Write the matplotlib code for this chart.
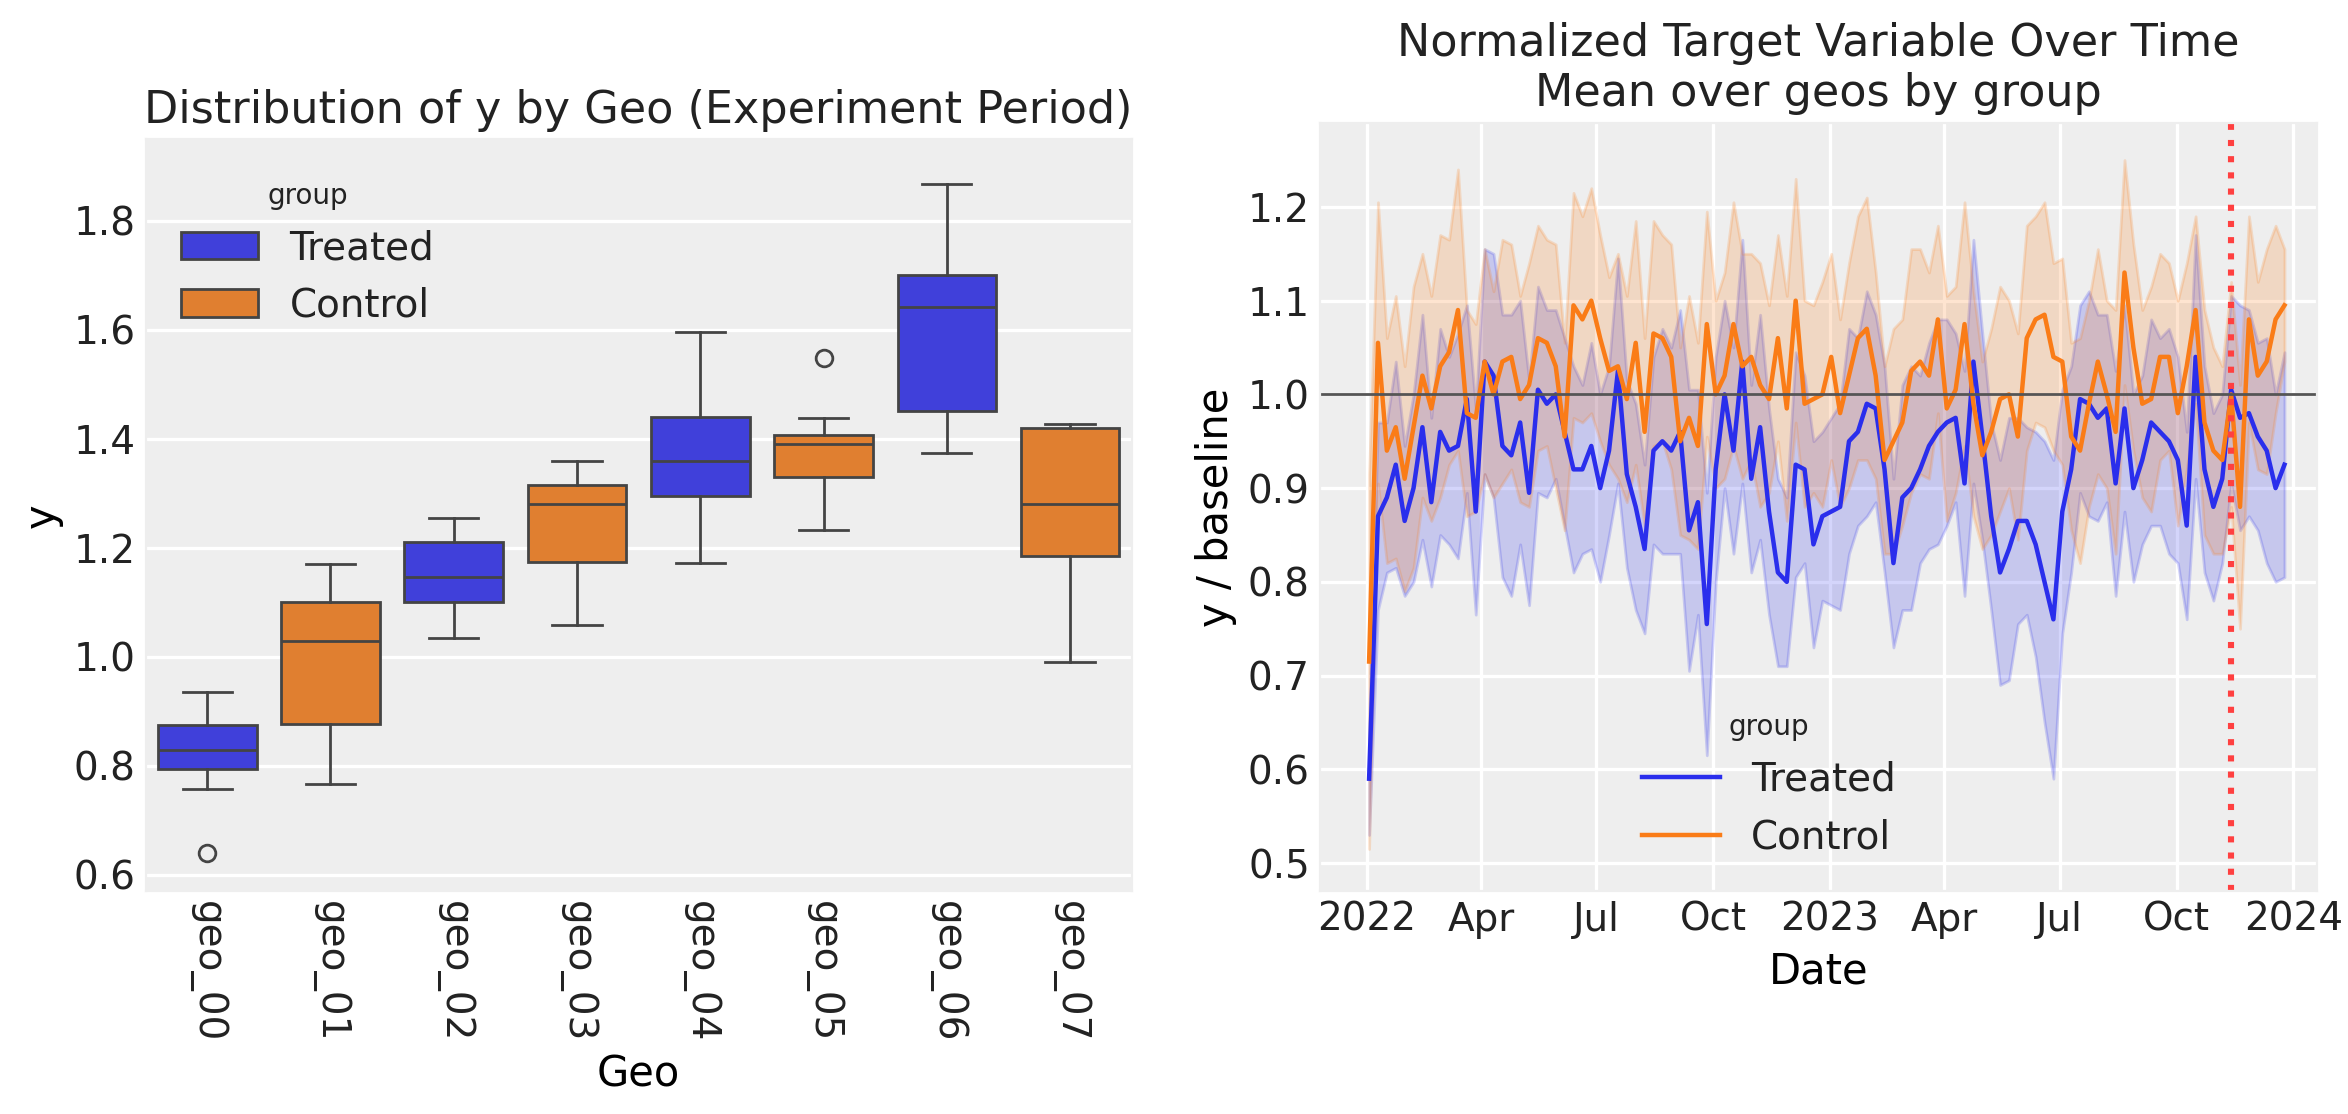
import matplotlib.pyplot as plt
import pandas as pd

geos = ["geo_00", "geo_01", "geo_02", "geo_03", "geo_04", "geo_05", "geo_06", "geo_07"]
geo_group = ["Treated", "Control", "Treated", "Control", "Treated", "Control", "Treated", "Control"]
box_med = [0.83, 1.03, 1.147, 1.28, 1.36, 1.39, 1.643, 1.28]
box_q1 = [0.795, 0.877, 1.10, 1.175, 1.295, 1.33, 1.452, 1.185]
box_q3 = [0.875, 1.10, 1.21, 1.315, 1.44, 1.408, 1.70, 1.42]
box_lo = [0.757, 0.767, 1.035, 1.058, 1.173, 1.232, 1.375, 0.99]
box_hi = [0.935, 1.17, 1.255, 1.36, 1.597, 1.438, 1.867, 1.428]
box_fliers = [[0.64], [], [], [], [], [1.548], [], []]

treated = [0.59, 0.87, 0.89, 0.925, 0.865, 0.90, 0.965, 0.885, 0.96, 0.94, 0.945, 0.995,
           0.875, 1.035, 1.02, 0.945, 0.935, 0.97, 0.895, 1.005, 0.99, 1.00, 0.96, 0.92,
           0.92, 0.945, 0.90, 0.94, 1.025, 0.915, 0.88, 0.835, 0.94, 0.95, 0.94, 0.96,
           0.855, 0.885, 0.755, 0.92, 1.00, 0.94, 1.035, 0.91, 0.965, 0.875, 0.81, 0.80,
           0.925, 0.92, 0.84, 0.87, 0.875, 0.88, 0.95, 0.96, 0.99, 0.985, 0.92, 0.82,
           0.89, 0.90, 0.92, 0.945, 0.96, 0.97, 0.975, 0.905, 1.035, 0.955, 0.87, 0.81,
           0.835, 0.865, 0.865, 0.84, 0.80, 0.76, 0.875, 0.92, 0.995, 0.99, 0.975, 0.985,
           0.905, 0.985, 0.90, 0.93, 0.97, 0.96, 0.95, 0.93, 0.86, 1.04, 0.92, 0.88,
           0.91, 1.005, 0.975, 0.98, 0.955, 0.94, 0.90, 0.925]
control = [0.715, 1.055, 0.94, 0.965, 0.91, 0.965, 1.02, 0.985, 1.03, 1.045, 1.09, 0.98,
           0.975, 1.035, 1.00, 1.035, 1.04, 0.995, 1.01, 1.06, 1.055, 1.03, 0.955, 1.095,
           1.08, 1.10, 1.06, 1.025, 1.03, 0.995, 1.055, 0.96, 1.065, 1.06, 1.04, 0.95,
           0.975, 0.945, 1.075, 1.00, 1.02, 1.075, 1.03, 1.04, 1.01, 0.995, 1.06, 0.985,
           1.10, 0.99, 0.995, 1.00, 1.04, 0.98, 1.02, 1.06, 1.07, 1.02, 0.93, 0.95,
           0.97, 1.025, 1.035, 1.02, 1.08, 0.985, 1.005, 1.075, 0.99, 0.935, 0.96, 0.995,
           1.00, 0.955, 1.06, 1.08, 1.085, 1.04, 1.035, 0.955, 0.94, 0.99, 1.035, 1.00,
           0.96, 1.13, 1.05, 0.99, 0.995, 1.04, 1.04, 0.98, 1.03, 1.09, 0.97, 0.94,
           0.93, 1.00, 0.88, 1.08, 1.02, 1.035, 1.08, 1.095]
treated_spread = [0.06, 0.10, 0.08, 0.11, 0.08, 0.10, 0.12, 0.09, 0.11, 0.10, 0.12, 0.10,
                  0.11, 0.12, 0.13, 0.14, 0.15, 0.13, 0.12, 0.11, 0.10, 0.09, 0.10, 0.11,
                  0.09, 0.11, 0.10, 0.09, 0.12, 0.10, 0.11, 0.09, 0.10, 0.12, 0.11, 0.13,
                  0.15, 0.12, 0.14, 0.12, 0.10, 0.11, 0.13, 0.10, 0.12, 0.11, 0.10, 0.09,
                  0.12, 0.10, 0.11, 0.09, 0.10, 0.11, 0.12, 0.10, 0.12, 0.10, 0.11, 0.09,
                  0.12, 0.13, 0.10, 0.11, 0.12, 0.11, 0.09, 0.12, 0.13, 0.11, 0.10, 0.12,
                  0.14, 0.11, 0.10, 0.12, 0.15, 0.17, 0.13, 0.11, 0.10, 0.12, 0.11, 0.10,
                  0.12, 0.11, 0.10, 0.09, 0.11, 0.10, 0.12, 0.11, 0.10, 0.13, 0.11, 0.10,
                  0.09, 0.10, 0.12, 0.11, 0.10, 0.12, 0.10, 0.12]
control_spread = [0.20, 0.15, 0.12, 0.14, 0.12, 0.15, 0.13, 0.12, 0.14, 0.12, 0.15, 0.11,
                  0.10, 0.12, 0.11, 0.13, 0.12, 0.11, 0.13, 0.12, 0.11, 0.13, 0.10, 0.12,
                  0.11, 0.12, 0.11, 0.10, 0.12, 0.11, 0.13, 0.10, 0.12, 0.11, 0.12, 0.10,
                  0.13, 0.11, 0.12, 0.10, 0.11, 0.13, 0.12, 0.11, 0.13, 0.10, 0.11, 0.12,
                  0.13, 0.11, 0.10, 0.12, 0.11, 0.10, 0.12, 0.13, 0.14, 0.11, 0.10, 0.12,
                  0.11, 0.13, 0.12, 0.11, 0.10, 0.12, 0.11, 0.13, 0.12, 0.10, 0.11, 0.12,
                  0.10, 0.11, 0.12, 0.11, 0.12, 0.10, 0.11, 0.10, 0.12, 0.11, 0.12, 0.10,
                  0.13, 0.12, 0.11, 0.10, 0.12, 0.11, 0.10, 0.12, 0.11, 0.10, 0.12, 0.11,
                  0.10, 0.12, 0.13, 0.11, 0.10, 0.12, 0.10, 0.06]
experiment_start = "2023-11-13"

n = min(len(treated), len(control), len(treated_spread), len(control_spread))
dates = pd.date_range("2022-01-03", periods=n, freq="7D")

plt.rcParams.update({
    "font.family": "DejaVu Sans",
    "axes.facecolor": "#eeeeee",
    "axes.edgecolor": "#eeeeee",
    "grid.color": "white",
    "grid.linewidth": 1.2,
    "axes.axisbelow": True,
    "text.color": "#222222",
    "xtick.color": "#222222",
    "ytick.color": "#222222",
})
colors = {"Treated": "#4040da", "Control": "#e07f30"}
line_colors = {"Treated": "#2a2eec", "Control": "#fa7c17"}

fig = plt.figure(figsize=(11.74, 5.57), dpi=200)
ax1 = fig.add_axes([0.062, 0.20, 0.42, 0.675])
ax2 = fig.add_axes([0.562, 0.20, 0.425, 0.69])

stats = []
for i in range(len(geos)):
    stats.append({"med": box_med[i], "q1": box_q1[i], "q3": box_q3[i],
                  "whislo": box_lo[i], "whishi": box_hi[i], "fliers": box_fliers[i]})
bp = ax1.bxp(stats, positions=range(len(geos)), widths=0.8, patch_artist=True,
             boxprops=dict(edgecolor="#444444", linewidth=1),
             medianprops=dict(color="#444444", linewidth=1),
             whiskerprops=dict(color="#444444", linewidth=1),
             capprops=dict(color="#444444", linewidth=1),
             flierprops=dict(marker="o", markerfacecolor="none", markeredgecolor="#444444", markersize=6))
for patch, g in zip(bp["boxes"], geo_group):
    patch.set_facecolor(colors[g])
ax1.set_xticks(range(len(geos)))
ax1.set_xticklabels(geos, rotation=-90, fontsize=14)
ax1.set_xlim(-0.5, len(geos) - 0.5)
ax1.set_ylim(0.57, 1.95)
ax1.tick_params(axis="y", labelsize=14, length=0)
ax1.tick_params(axis="x", length=0)
ax1.grid(axis="y")
ax1.set_xlabel("Geo", fontsize=15)
ax1.set_ylabel("y", fontsize=15)
ax1.set_title("Distribution of y by Geo (Experiment Period)", fontsize=16)
handles = [plt.Rectangle((0, 0), 1, 1, facecolor=colors[g], edgecolor="#444444") for g in ["Treated", "Control"]]
ax1.legend(handles, ["Treated", "Control"], title="group", loc="upper left",
           bbox_to_anchor=(0.0, 0.99), frameon=False, fontsize=14, title_fontsize=10)

for name, vals, spread in [("Treated", treated, treated_spread), ("Control", control, control_spread)]:
    v = pd.Series(vals[:n], index=dates)
    s = pd.Series(spread[:n], index=dates)
    ax2.fill_between(dates, v - s, v + s, color=line_colors[name], alpha=0.2, linewidth=1)
    ax2.plot(dates, v, color=line_colors[name], linewidth=1.6, label=name)
ax2.axhline(1.0, color="#555555", linewidth=1)
ax2.axvline(pd.Timestamp(experiment_start), color="#ff4040", linestyle=":", linewidth=2.2)
ax2.set_ylim(0.47, 1.29)
ax2.set_yticks([0.5, 0.6, 0.7, 0.8, 0.9, 1.0, 1.1, 1.2])
ax2.tick_params(labelsize=14, length=0)
ax2.grid(True)
ax2.set_xlim(pd.Timestamp("2021-11-25"), pd.Timestamp("2024-01-20"))
ax2.set_xticks(pd.to_datetime(["2022-01-01", "2022-04-01", "2022-07-01", "2022-10-01", "2023-01-01",
                               "2023-04-01", "2023-07-01", "2023-10-01", "2024-01-01"]))
ax2.set_xticklabels(["2022", "Apr", "Jul", "Oct", "2023", "Apr", "Jul", "Oct", "2024"])
ax2.set_xlabel("Date", fontsize=15)
ax2.set_ylabel("y / baseline", fontsize=15)
ax2.set_title("Normalized Target Variable Over Time\nMean over geos by group", fontsize=16)
ax2.legend(title="group", loc="lower center", bbox_to_anchor=(0.45, 0.0), frameon=False,
           fontsize=14, title_fontsize=10)

fig.savefig("out.png", dpi=200)
